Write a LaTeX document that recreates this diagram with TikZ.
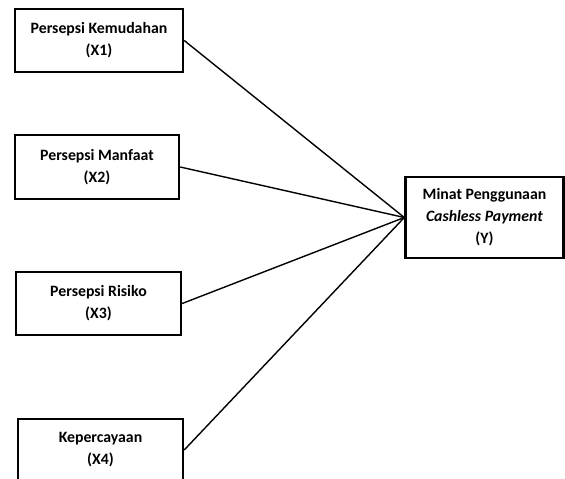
\documentclass[tikz,border=0pt]{standalone}
\usepackage{fontspec}
\setmainfont{Carlito}
\begin{document}
\begin{tikzpicture}[x=1pt,y=-1pt,
  box/.style={draw=black,line width=2.4pt,fill=white,align=center,inner sep=0pt,
    font=\bfseries\fontsize{15.8}{22}\selectfont},
  link/.style={draw=black,line width=1.4pt}]
\useasboundingbox (0,0) rectangle (565,479);
\clip (0,0) rectangle (565,479);
\fill[white] (0,0) rectangle (565,479);
\node[box,minimum width=168pt,minimum height=63pt] (x1) at (99,40.5) {Persepsi Kemudahan\\(X1)};
\node[box,minimum width=164pt,minimum height=64pt] (x2) at (97,167) {Persepsi Manfaat\\(X2)};
\node[box,minimum width=165pt,minimum height=63pt] (x3) at (98.5,303.5) {Persepsi Risiko\\(X3)};
\node[box,minimum width=165pt,minimum height=62pt] (x4) at (100.5,450) {Kepercayaan\\(X4)};
\node[box,minimum width=158pt,minimum height=81pt] (y) at (484.5,217.5) {Minat Penggunaan\\\textit{Cashless Payment}\\(Y)};
\draw[link] (x1.east) -- (y.west);
\draw[link] (x2.east) -- (y.west);
\draw[link] (x3.east) -- (y.west);
\draw[link] (x4.east) -- (y.west);
\end{tikzpicture}
\end{document}
